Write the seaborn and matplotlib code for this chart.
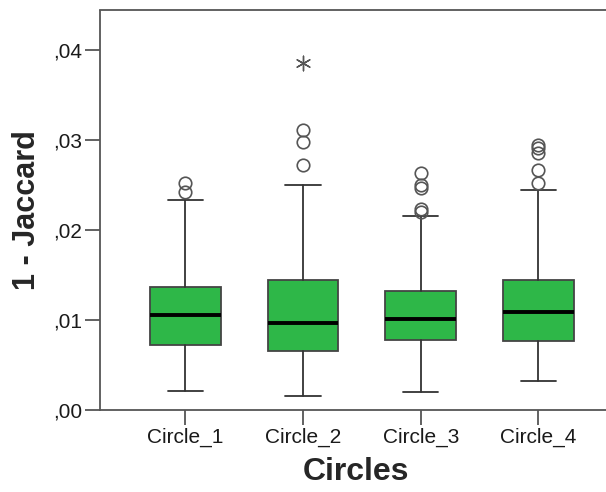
import seaborn as sns
import pandas as pd
import matplotlib.pyplot as plt
import numpy as np

sns.set_style('ticks')
plt.rcParams['font.family'] = ['Liberation Sans', 'DejaVu Sans']

categories = ['Circle_1', 'Circle_2', 'Circle_3', 'Circle_4']
whislo = [0.00206, 0.00150, 0.00198, 0.00321]
q1 = [0.00715, 0.00655, 0.00774, 0.00766]
med = [0.01052, 0.00960, 0.01008, 0.01089]
q3 = [0.01361, 0.01439, 0.01323, 0.01442]
whishi = [0.02335, 0.02500, 0.02158, 0.02444]
outliers = [
    [0.02425, 0.02520],
    [0.02723, 0.02982, 0.03112],
    [0.02200, 0.02230, 0.02460, 0.02500, 0.02630],
    [0.02520, 0.02660, 0.02853, 0.02910, 0.02945],
]
extremes = {'Circle_2': [0.03855]}

yticks = [0.00, 0.01, 0.02, 0.03, 0.04]
ytick_labels = [',00', ',01', ',02', ',03', ',04']

green = '#2EB748'
edge = '#444444'

fig = plt.figure(figsize=(6.06, 4.92), dpi=100)
ax = fig.add_axes([100 / 606, 1 - 409.5 / 492, 1.0 - 100 / 606 + 0.01, (409.5 - 10.5) / 492])

stats = []
for i, name in enumerate(categories):
    stats.append({'label': name, 'whislo': whislo[i], 'q1': q1[i], 'med': med[i],
                  'q3': q3[i], 'whishi': whishi[i], 'fliers': outliers[i]})

ax.bxp(stats, positions=np.arange(len(categories)), widths=0.6, patch_artist=True,
       boxprops=dict(facecolor=green, edgecolor=edge, linewidth=1.3),
       medianprops=dict(color='black', linewidth=2.8),
       whiskerprops=dict(color='#333333', linewidth=1.3),
       capprops=dict(color='#333333', linewidth=1.3),
       capwidths=0.3,
       flierprops=dict(marker='o', markerfacecolor='none', markeredgecolor='#555555',
                       markersize=9, markeredgewidth=1.2))

# extreme values (SPSS asterisk)
ext = pd.DataFrame([(categories.index(k), v) for k, vals in extremes.items() for v in vals],
                   columns=['pos', 'value'])
sns.scatterplot(data=ext, x='pos', y='value', ax=ax, marker=(6, 2, 0), s=110,
                color='#555555', linewidth=1.0, legend=False)

ax.set_xlim(-0.725, 3.625)
ax.set_ylim(0, 0.0444)
ax.set_xticks(np.arange(len(categories)))
ax.set_xticklabels(categories)
ax.set_yticks(yticks)
ax.set_yticklabels(ytick_labels)

for s in ['left', 'bottom', 'top', 'right']:
    ax.spines[s].set_color('#555555')
    ax.spines[s].set_linewidth(1.3)
ax.tick_params(axis='both', length=11, width=1.3, color='#555555', labelsize=15,
               labelcolor='#1a1a1a', pad=2)

ax.set_xlabel('Circles', fontsize=23, fontweight='bold', labelpad=7)
ax.set_ylabel('1 - Jaccard', fontsize=22, fontweight='bold', labelpad=8)

plt.savefig('out.png', dpi=100)
